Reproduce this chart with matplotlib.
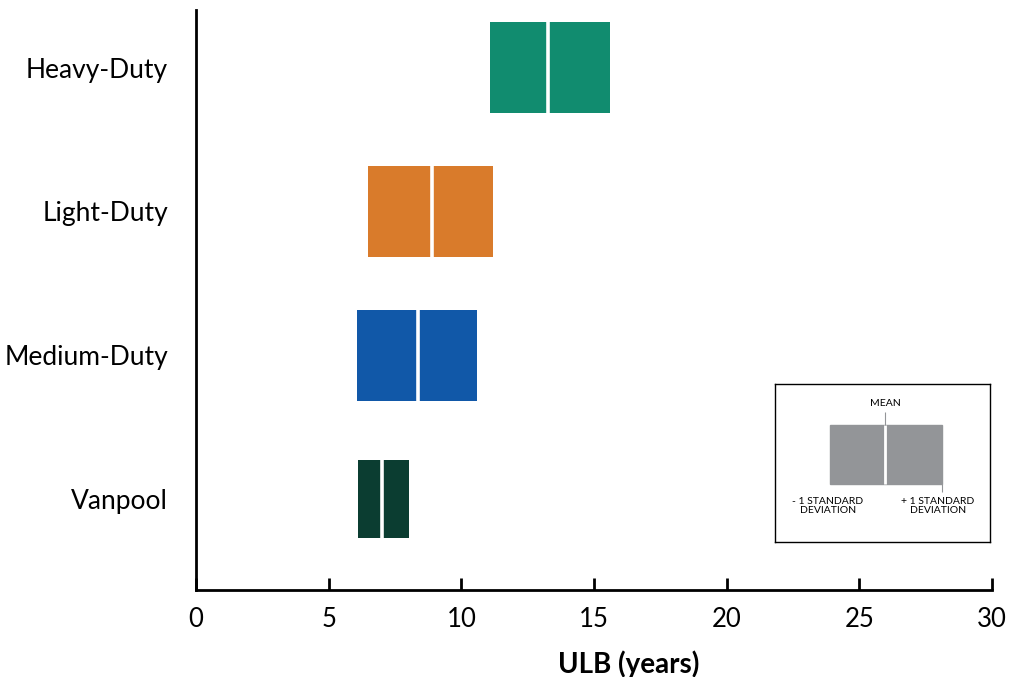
import matplotlib
matplotlib.use("Agg")
from matplotlib import pyplot as plt
from matplotlib.patches import Rectangle

# ULB ranges: mean +/- 1 standard deviation
categories = ["Vanpool", "Medium-Duty", "Light-Duty", "Heavy-Duty"]
low = [6.1, 6.07, 6.48, 11.08]
mean = [7.02, 8.37, 8.9, 13.27]
high = [8.02, 10.6, 11.19, 15.6]
xticks = [0, 5, 10, 15, 20, 25, 30]

colors = ["#0b3d31", "#1158a8", "#d97b2b", "#118c6f"]
heights = [0.54, 0.63, 0.63, 0.63]

plt.rcParams['font.family'] = ['Lato', 'DejaVu Sans']

fig = plt.figure(figsize=(10.13, 6.77), dpi=100)
ax = fig.add_axes([196 / 1013, 1 - 590 / 677, 796 / 1013, 580 / 677])

ypos = list(range(len(categories)))
ax.barh(ypos, [h - l for l, h in zip(low, high)], left=low, height=heights,
        color=colors, edgecolor="none")
for y, m, h in zip(ypos, mean, heights):
    ax.vlines(m, y - h / 2, y + h / 2, color="white", lw=2.6)

ax.set_xlim(0, 30)
ax.set_ylim(-0.63, 3.4)
ax.set_xticks(xticks)
ax.set_yticks(ypos)
ax.set_yticklabels(categories)
ax.tick_params(axis="x", direction="in", length=9, width=2, labelsize=18.5, pad=12)
ax.tick_params(axis="y", length=0, labelsize=19, pad=20)
for s in ("top", "right"):
    ax.spines[s].set_visible(False)
for s in ("left", "bottom"):
    ax.spines[s].set_linewidth(2)
ax.set_xlabel("ULB (years)", fontsize=20, fontweight="bold")
ax.xaxis.set_label_coords(0.543, -0.105)

# legend key box
leg = fig.add_axes([775 / 1013, 1 - 542 / 677, 215 / 1013, 158 / 677])
leg.set_xlim(0, 215)
leg.set_ylim(158, 0)
leg.set_xticks([])
leg.set_yticks([])
for s in leg.spines.values():
    s.set_linewidth(1)
leg.add_patch(Rectangle((55, 41), 112, 59, color="#939598"))
leg.vlines(110, 41, 100, color="white", lw=2)
leg.vlines(110, 28, 41, color="#939598", lw=0.8)
leg.vlines(167, 100, 108, color="#939598", lw=0.8)
leg.text(110, 19, "MEAN", ha="center", va="center", fontsize=7.5)
leg.text(53, 122, "- 1 STANDARD\nDEVIATION", ha="center", va="center",
         fontsize=7.5, linespacing=1.1)
leg.text(163, 122, "+ 1 STANDARD\nDEVIATION", ha="center", va="center",
         fontsize=7.5, linespacing=1.1)

fig.savefig("out.png", dpi=100)
